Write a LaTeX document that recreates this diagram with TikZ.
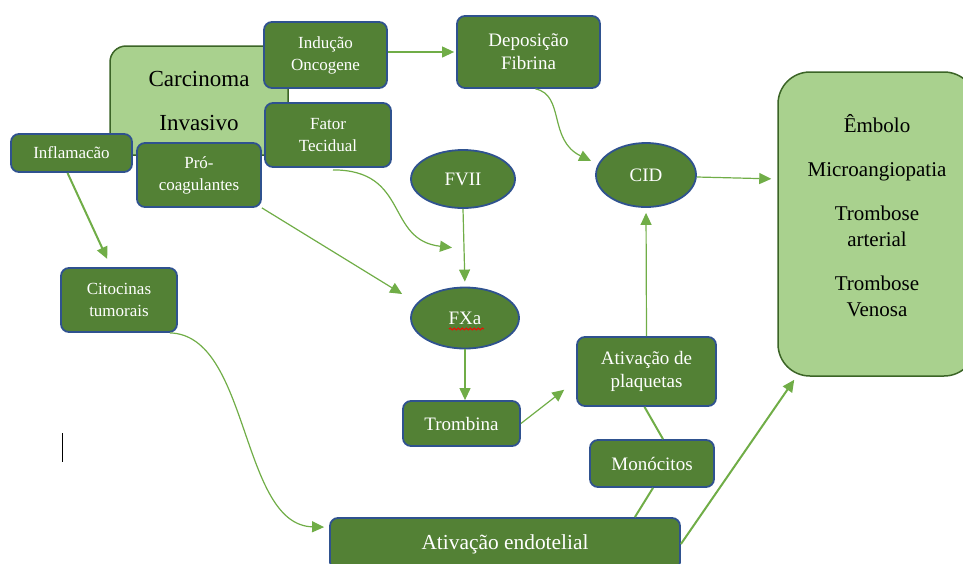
\documentclass[tikz,border=0pt]{standalone}
\usepackage{fontspec}
\setmainfont{LiberationSerif-Regular.ttf}[BoldFont=LiberationSerif-Bold.ttf]
\usetikzlibrary{arrows.meta,calc,shapes.geometric,decorations.pathmorphing}
\definecolor{dkgreen}{HTML}{538135}
\definecolor{bluebd}{HTML}{2F528F}
\definecolor{ltgreen}{HTML}{A9D18E}
\definecolor{ltborder}{HTML}{3B6426}
\definecolor{arrowgreen}{HTML}{70AD47}
\begin{document}
\begin{tikzpicture}[x=1pt,y=-1pt,
  box/.style={draw=bluebd, line width=1.8pt, fill=dkgreen, rounded corners=8pt, text=white, align=center, inner sep=0pt},
  oval/.style={ellipse, draw=bluebd, line width=1.8pt, fill=dkgreen, text=white, inner sep=0pt},
  bigbox/.style={draw=ltborder, line width=1.5pt, fill=ltgreen, inner sep=0pt},
  arr/.style={draw=arrowgreen, line width=1.2pt, -{Triangle[length=12pt,width=11pt]}},
  thickarr/.style={arr, line width=2pt},
  link/.style={draw=arrowgreen, line width=2pt},
  fs/.style={font=\fontsize{17}{22}\selectfont},
  fm/.style={font=\fontsize{19}{23}\selectfont},
]
\useasboundingbox (0,0) rectangle (963,563);
\clip (0,0) rectangle (963,563);

% big light boxes
\node[bigbox, rounded corners=16pt, minimum width=178pt, minimum height=109pt, align=center,
      font=\fontsize{23}{44}\selectfont] (carc) at (199,100.5) {Carcinoma\\Invasivo};
\node[bigbox, rounded corners=32pt, minimum width=198pt, minimum height=304pt] (res) at (877,224) {};
\node[align=center, font=\fontsize{21}{26}\selectfont] (outc) at (877,216)
  {Êmbolo\\[18pt]Microangiopatia\\[18pt]Trombose\\arterial\\[18pt]Trombose\\Venosa};

% dark boxes
\node[box, fs, minimum width=123pt, minimum height=66pt] (ind) at (325.5,55) {Indução\\Oncogene};
\node[box, fs, minimum width=126pt, minimum height=64pt] (fat) at (328,135) {Fator\\Tecidual};
\node[box, fs, minimum width=121pt, minimum height=38pt] (inf) at (71.5,153) {Inflamacão};
\node[box, fs, minimum width=124pt, minimum height=64pt] (pro) at (199,175) {Pró-\\coagulantes};
\node[box, fm, minimum width=143pt, minimum height=72pt] (dep) at (528.5,52) {Deposição\\Fibrina};
\node[box, fs, minimum width=116pt, minimum height=64pt] (cit) at (119,300) {Citocinas\\tumorais};
\node[box, fm, minimum width=117pt, minimum height=45pt] (tro) at (461.5,423.5) {Trombina};
\node[box, fm, minimum width=139pt, minimum height=69pt] (pla) at (646.5,371.5) {Ativação de\\plaquetas};
\node[box, fm, minimum width=124pt, minimum height=47pt] (mon) at (652,463.5) {Monócitos};
\node[box, font=\fontsize{21.4}{26}\selectfont, minimum width=350pt, minimum height=52pt] (endo) at (505,544) {Ativação endotelial};

% ellipses
\node[oval, fm, minimum width=104pt, minimum height=58pt] (fvii) at (463,179) {FVII};
\node[oval, fm, minimum width=100pt, minimum height=64pt] (cid) at (646,175) {CID};
\node[oval, fm, minimum width=108pt, minimum height=61pt] (fxa) at (465,318) {FXa};
\draw[red, line width=0.8pt, decorate, decoration={snake, amplitude=1.1pt, segment length=4pt}]
  ($(fxa.center)+(-16,11)$) -- ($(fxa.center)+(19,11)$);

% connectors
\draw[arr, shorten >=2pt] (ind.east |- dep.west) -- (dep.west);
\draw[arr] ($(dep.south)+(7,0)$) .. controls (565,95) and (548,140) .. ($(cid.west)+(-4,-14)$);
\draw[arr] ($(fat.south)+(5,2)$) .. controls (410,170) and (385,240) .. ($(fxa.north)+(-13,-39)$);
\draw[arr] (pro.south east) -- ($(fxa.west)+(-8,-24)$);
\draw[arr, shorten >=5pt] (fvii.south) -- (fxa.north);
\draw[thickarr, shorten >=9pt] ($(inf.south)+(-4,0)$) -- ($(cit.north)+(-8,0)$);
\draw[arr] ($(cit.south east)+(-8,0)$) .. controls (250,335) and (240,525) .. ($(endo.north west)+(-5,10)$);
\draw[arr] (fxa.south) -- (fxa.south |- tro.north);
\draw[arr, shorten >=15pt] (tro.east) -- ($(pla.west)+(0,9)$);
\draw[arr, shorten >=5pt] (pla.north) -- (cid.south);
\draw[link] ($(pla.south)+(-2,0)$) -- ($(mon.north)+(11,0)$);
\draw[link] ($(mon.south)+(1,0)$) -- ($(endo.north east)+(-46,0)$);
\draw[thickarr] (endo.east) -- ($(res.south west)+(17,3)$);
\draw[arr, shorten >=6pt] ($(cid.east)+(0,2)$) -- ($(cid.east -| res.west)+(0,4)$);

% text cursor
\draw[black, line width=0.9pt] (62,433) -- (62,462);
\end{tikzpicture}
\end{document}
